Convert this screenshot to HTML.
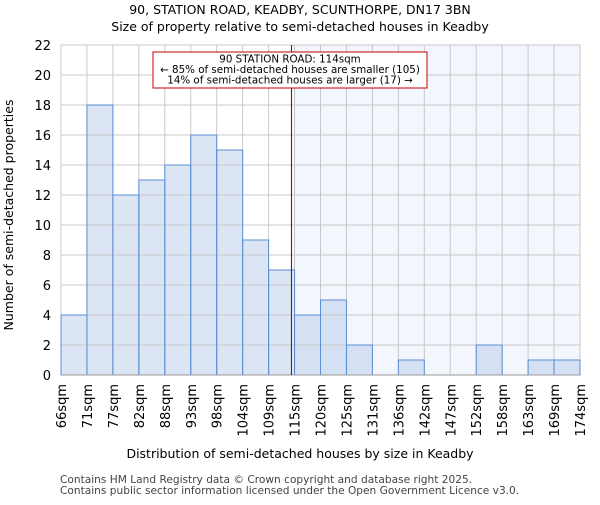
<!DOCTYPE html>
<html><head><meta charset="utf-8"><style>body{margin:0;background:#fff}svg{font-family:"DejaVu Sans","Liberation Sans",sans-serif}</style></head>
<body>
<svg id="c" width="600" height="500" xmlns="http://www.w3.org/2000/svg">
<text x="300" y="14" font-size="12.5" text-anchor="middle">90, STATION ROAD, KEADBY, SCUNTHORPE, DN17 3BN</text>
<text x="300" y="31" font-size="12.5" text-anchor="middle">Size of property relative to semi-detached houses in Keadby</text>
<g id="plot"></g>
<text x="300" y="458" font-size="12.5" text-anchor="middle">Distribution of semi-detached houses by size in Keadby</text>
<text transform="translate(13,215) rotate(-90)" font-size="12.5" text-anchor="middle">Number of semi-detached properties</text>
<text x="60" y="483" font-size="10.6" fill="#444">Contains HM Land Registry data © Crown copyright and database right 2025.</text>
<text x="60" y="494" font-size="10.6" fill="#444">Contains public sector information licensed under the Open Government Licence v3.0.</text>
</svg>
<script>
const categories=["66sqm","71sqm","77sqm","82sqm","88sqm","93sqm","98sqm","104sqm","109sqm","115sqm","120sqm","125sqm","131sqm","136sqm","142sqm","147sqm","152sqm","158sqm","163sqm","169sqm","174sqm"];
const counts=[4,18,12,13,14,16,15,9,7,4,5,2,0,1,0,0,2,0,1,1];
const yTicks=[0,2,4,6,8,10,12,14,16,18,20,22];
const markerIndex=8.88;
const X0=61,X1=580,Y0=375,Y1=45,YMAX=22;
const bw=(X1-X0)/counts.length;
const xs=i=>X0+i*bw, ys=v=>Y0-(v/YMAX)*(Y0-Y1);
const g=document.getElementById('plot');const NS="http://www.w3.org/2000/svg";
function mk(t,a,p){const e=document.createElementNS(NS,t);for(const k in a)e.setAttribute(k,a[k]);(p||g).appendChild(e);return e;}
const mx=xs(markerIndex);
let r=mk('rect',{x:mx,y:Y1,width:X1-mx,height:Y0-Y1,fill:'#f3f6fd'});


counts.forEach((v,i)=>{if(v<=0)return;let b=mk('rect',{x:xs(i),y:ys(v),width:bw,height:Y0-ys(v),fill:i>=9?'#d5e0f3':'#dbe5f4'});

});
yTicks.forEach(t=>{let l=mk('line',{x1:X0,x2:X1,y1:ys(t),y2:ys(t),stroke:'#c8c8c8'});


let tx=mk('text',{x:X0-10,y:ys(t)+5,'font-size':13,'text-anchor':'end'});tx.textContent=t;

});
categories.forEach((c,i)=>{let l=mk('line',{x1:xs(i),x2:xs(i),y1:Y1,y2:Y0,stroke:'#c8c8c8'});


let tx=mk('text',{transform:`translate(${xs(i)+5},384) rotate(-90)`,'font-size':13,'text-anchor':'end'});tx.textContent=c;

});
counts.forEach((v,i)=>{if(v<=0)return;let b=mk('rect',{x:xs(i),y:ys(v),width:bw,height:Y0-ys(v),fill:'none',stroke:'#5b8fd6','stroke-width':1});

});
let ax=mk('line',{x1:X0,x2:X1,y1:Y0,y2:Y0,stroke:'#999'});


let ml=mk('line',{x1:mx,x2:mx,y1:Y1,y2:Y0,stroke:'#800000','stroke-width':1});


let bx=mk('rect',{x:153,y:52,width:274,height:36,fill:'#fff',stroke:'#c00000','stroke-width':1});


["90 STATION ROAD: 114sqm","← 85% of semi-detached houses are smaller (105)","14% of semi-detached houses are larger (17) →"].forEach((s,k)=>{let t=mk('text',{x:290,y:62.5+k*10.5,'font-size':10.3,'text-anchor':'middle'});t.textContent=s;

});
</script>
</body></html>
